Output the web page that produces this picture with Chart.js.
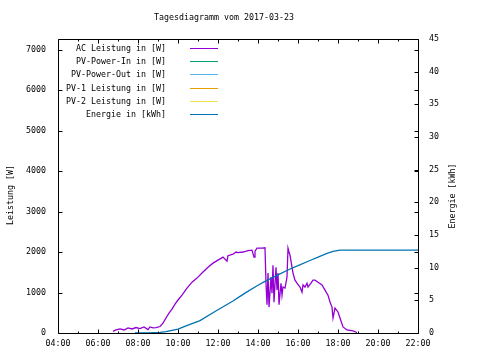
<!DOCTYPE html>
<html>
<head>
<meta charset="utf-8">
<script src="https://cdn.jsdelivr.net/npm/chart.js@4/dist/chart.umd.min.js"></script>
<style>
  html, body { margin: 0; padding: 0; background: #fff; }
  #wrap { width: 480px; height: 360px; }
</style>
</head>
<body>
<div id="wrap"><canvas id="c" width="480" height="360"></canvas></div>
<script>
// ---------------- data ----------------
const chartTitle = "Tagesdiagramm vom 2017-03-23";
const leftAxisTitle = "Leistung [W]";
const rightAxisTitle = "Energie [kWh]";

const seriesLabels = ["AC Leistung in [W]", "PV-Power-In in [W]", "PV-Power-Out in [W]",
                      "PV-1 Leistung in [W]", "PV-2 Leistung in [W]", "Energie in [kWh]"];
const seriesColors = ["#9400d3", "#009e73", "#56b4e9", "#e69f00", "#f0e442", "#0072b2"];

const xTickHours = [4, 6, 8, 10, 12, 14, 16, 18, 20, 22];
const leftTicks = [0, 1000, 2000, 3000, 4000, 5000, 6000, 7000];
const rightTicks = [0, 5, 10, 15, 20, 25, 30, 35, 40, 45];

// AC Leistung [W]
const acTimes = ["6:45","6:54","7:06","7:18","7:30","7:42","7:54","8:06","8:18","8:30","8:36","8:45","8:54",
  "9:06","9:15","9:24","9:33","9:42","9:51","10:00","10:12","10:27","10:42","10:57","11:15","11:30","11:45",
  "12:00","12:15","12:27","12:30","12:45","12:54","13:00","13:15","13:30","13:42","13:48","13:51","13:57",
  "14:12","14:21","14:24","14:27","14:30","14:33","14:39","14:42","14:45","14:48","14:54","14:57","15:00",
  "15:03","15:09","15:12","15:15","15:21","15:27","15:30","15:33","15:36","15:42","15:45","15:51","15:57",
  "16:06","16:12","16:15","16:21","16:27","16:30","16:39","16:45","16:51","17:00","17:12","17:21","17:30",
  "17:36","17:42","17:45","17:51","18:00","18:06","18:15","18:27","18:45","18:57"];
const acValues = [40,75,100,75,125,100,135,110,150,85,150,125,135,
  160,245,370,490,590,715,815,935,1110,1255,1355,1505,1625,1725,
  1800,1875,1775,1910,1945,2000,1985,2000,2035,2045,1875,2020,2095,
  2095,2105,1230,700,1480,640,1380,985,1675,760,1625,1060,1480,
  700,1230,935,1135,1110,1380,2095,2000,1920,1625,1480,1305,1230,
  1135,1010,1185,1135,1230,1135,1230,1305,1305,1255,1185,1060,935,
  765,640,370,615,520,370,150,75,50,12];

// Energie [kWh]
const enTimes = ["7:51","8:30","9:06","9:24","10:00","10:30","11:06","11:51","12:45","13:06","13:27",
  "14:00","14:21","15:00","15:36","16:00","16:36","17:00","17:27","17:45","18:06","18:30","22:00"];
const enValues = [0,0,0.1,0.2,0.6,1.2,1.9,3.3,4.9,5.6,6.3,
  7.3,7.9,8.9,9.8,10.3,11.1,11.6,12.2,12.5,12.7,12.7,12.7];

// PV-Power-In, PV-Power-Out, PV-1, PV-2: no data drawn
const pvInValues = [];
const pvOutValues = [];
const pv1Values = [];
const pv2Values = [];

// ---------------- helpers ----------------
function toHours(s) { const [h, m] = s.split(":").map(Number); return h + m / 60; }
function pts(times, vals) { return times.map((t, i) => ({ x: toHours(t), y: vals[i] })); }

const FONT = "'DejaVu Sans Mono', 'Liberation Mono', monospace";
const FS = 8.3;

const overlay = {
  id: 'overlay',
  afterDraw(chart) {
    const { ctx, chartArea: a, scales } = chart;
    const L = Math.round(a.left) + 0.5, R = Math.round(a.right) + 0.5;
    const T = Math.round(a.top) + 0.5, B = Math.round(a.bottom) + 0.5;
    ctx.save();
    ctx.strokeStyle = '#000';
    ctx.lineWidth = 1;
    ctx.beginPath();
    ctx.rect(L, T, R - L, B - T);
    // x ticks (bottom + mirrored top)
    for (let h = 4; h <= 22; h++) {
      const x = Math.round(scales.x.getPixelForValue(h)) + 0.5;
      const len = (h % 2 === 0) ? 4 : 2;
      ctx.moveTo(x, B); ctx.lineTo(x, B - len);
      ctx.moveTo(x, T); ctx.lineTo(x, T + len);
    }
    // left ticks (and mirrored on right)
    leftTicks.forEach(v => {
      const y = Math.round(scales.y.getPixelForValue(v)) + 0.5;
      ctx.moveTo(L, y); ctx.lineTo(L + 4, y);
      ctx.moveTo(R, y); ctx.lineTo(R - 4, y);
    });
    // right ticks
    rightTicks.forEach(v => {
      const y = Math.round(scales.y2.getPixelForValue(v)) + 0.5;
      ctx.moveTo(R, y); ctx.lineTo(R - 4, y);
    });
    ctx.stroke();

    ctx.fillStyle = '#000';
    ctx.font = FS + 'px ' + FONT;
    // title
    ctx.textAlign = 'center';
    ctx.textBaseline = 'middle';
    ctx.fillText(chartTitle, 224, 18);
    // axis titles
    ctx.save();
    ctx.translate(11, 195);
    ctx.rotate(-Math.PI / 2);
    ctx.fillText(leftAxisTitle, 0, 0);
    ctx.restore();
    ctx.save();
    ctx.translate(453, 196);
    ctx.rotate(-Math.PI / 2);
    ctx.fillText(rightAxisTitle, 0, 0);
    ctx.restore();
    // legend
    chart.data.datasets.forEach((ds, i) => {
      const y = Math.round(48 + i * 13.2) + 0.5;
      ctx.fillStyle = '#000';
      ctx.textAlign = 'right';
      ctx.fillText(ds.label, 166, y);
      ctx.strokeStyle = ds.borderColor;
      ctx.lineWidth = 1;
      ctx.beginPath();
      ctx.moveTo(190, y); ctx.lineTo(218, y);
      ctx.stroke();
    });
    ctx.restore();
  }
};

const seriesData = [pts(acTimes, acValues), pvInValues, pvOutValues, pv1Values, pv2Values, pts(enTimes, enValues)];
const datasets = seriesLabels.map((lab, i) => ({
  label: lab,
  data: seriesData[i],
  borderColor: seriesColors[i],
  backgroundColor: seriesColors[i],
  borderWidth: 1.3,
  pointRadius: 0,
  tension: 0,
  fill: false,
  yAxisID: i === 5 ? 'y2' : 'y',
  order: i === 5 ? 0 : 1
}));

new Chart(document.getElementById('c'), {
  type: 'line',
  data: { datasets },
  options: {
    responsive: false,
    animation: false,
    events: [],
    layout: { padding: { top: 39, left: 0, right: 0, bottom: 0 } },
    plugins: { legend: { display: false }, title: { display: false }, tooltip: { enabled: false } },
    scales: {
      x: {
        type: 'linear', min: 4, max: 22,
        afterBuildTicks: s => { s.ticks = xTickHours.map(v => ({ value: v })); },
        ticks: {
          callback: v => String(v).padStart(2, '0') + ':00',
          font: { family: FONT, size: FS }, color: '#000', padding: 6,
          maxRotation: 0, autoSkip: false
        },
        grid: { display: false, drawTicks: false },
        border: { display: false },
        afterFit: s => { s.height = 27; }
      },
      y: {
        position: 'left', min: 0, max: 7260,
        afterBuildTicks: s => { s.ticks = leftTicks.map(v => ({ value: v })); },
        ticks: { callback: v => String(v), font: { family: FONT, size: FS }, color: '#000', padding: 12 },
        grid: { display: false, drawTicks: false },
        border: { display: false },
        afterFit: s => { s.width = 58; }
      },
      y2: {
        position: 'right', min: 0, max: 45,
        afterBuildTicks: s => { s.ticks = rightTicks.map(v => ({ value: v })); },
        ticks: { callback: v => String(v), font: { family: FONT, size: FS }, color: '#000', padding: 11 },
        grid: { display: false, drawTicks: false },
        border: { display: false },
        afterFit: s => { s.width = 62; }
      }
    }
  },
  plugins: [overlay]
});
</script>
</body>
</html>
